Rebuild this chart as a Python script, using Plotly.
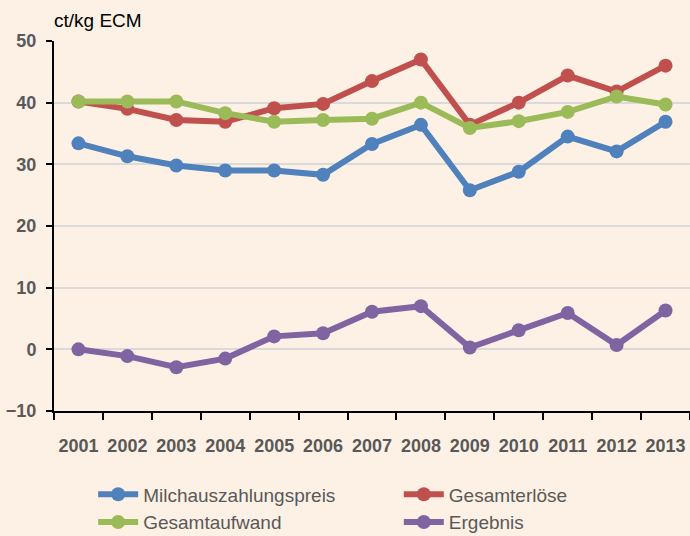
import plotly.graph_objects as go

years = ["2001", "2002", "2003", "2004", "2005", "2006", "2007",
         "2008", "2009", "2010", "2011", "2012", "2013"]
milchauszahlungspreis = [33.4, 31.3, 29.8, 29.0, 29.0, 28.3, 33.3, 36.4, 25.8, 28.8, 34.5, 32.1, 36.9]
gesamterloese = [40.2, 39.0, 37.2, 36.9, 39.1, 39.8, 43.5, 47.0, 36.4, 40.0, 44.4, 41.8, 46.0]
gesamtaufwand = [40.2, 40.2, 40.2, 38.3, 36.9, 37.2, 37.4, 40.0, 35.9, 37.0, 38.5, 41.0, 39.7]
ergebnis = [0.0, -1.1, -2.9, -1.5, 2.1, 2.6, 6.1, 7.0, 0.3, 3.1, 5.9, 0.7, 6.3]
y_ticks = [-10, 0, 10, 20, 30, 40, 50]

# (name, values, colour, legend column)
series = [
    ("Milchauszahlungspreis", milchauszahlungspreis, "#4F81BD", "legend"),
    ("Gesamterlöse", gesamterloese, "#C0504D", "legend2"),
    ("Gesamtaufwand", gesamtaufwand, "#9BBB59", "legend"),
    ("Ergebnis", ergebnis, "#8064A2", "legend2"),
]

BG = "#FDF1E5"
FONT = "Liberation Sans, Arial, sans-serif"
LEG_FONT = dict(family=FONT, size=19, color="#595959")

fig = go.Figure()
for name, vals, col, leg in series:
    fig.add_trace(go.Scatter(
        x=years, y=vals, name=name, mode="lines+markers",
        line=dict(color=col, width=6),
        marker=dict(color=col, size=14),
        legend=leg,
    ))

leg_common = dict(
    orientation="h", xref="container", yref="container",
    xanchor="left", yanchor="top", y=0.113,
    entrywidth=300, entrywidthmode="pixels",
    font=LEG_FONT, bgcolor="rgba(0,0,0,0)", itemwidth=40,
    traceorder="normal",
)

fig.update_layout(
    width=690, height=536,
    margin=dict(l=54, r=0, t=41, b=125),
    paper_bgcolor=BG, plot_bgcolor=BG,
    showlegend=True,
    legend=dict(x=0.135, **leg_common),
    legend2=dict(x=0.578, **leg_common),
    xaxis=dict(
        type="category", tickson="boundaries", range=[-0.5, 12.5],
        showline=True, linecolor="black", linewidth=2,
        ticks="outside", ticklen=7, tickcolor="black", tickwidth=2,
        showgrid=False, zeroline=False, tickangle=0, automargin=False,
        tickfont=dict(family=FONT, size=18, color="#595959", weight="bold"),
        ticklabelstandoff=17,
    ),
    yaxis=dict(
        range=[-10, 50], tickvals=y_ticks, automargin=False,
        showline=True, linecolor="black", linewidth=2,
        ticks="outside", ticklen=6, tickcolor="black", tickwidth=2,
        showgrid=True, gridcolor="#DADADA", gridwidth=2, zeroline=False,
        tickfont=dict(family=FONT, size=18, color="#595959", weight="bold"),
        ticklabelstandoff=6,
    ),
    annotations=[dict(
        text="ct/kg ECM", xref="paper", yref="paper",
        x=-0.003, y=1.0, xanchor="left", yanchor="bottom", yshift=8,
        showarrow=False,
        font=dict(family=FONT, size=19, color="black"),
    )],
)

fig.write_html("out.html", config={"displayModeBar": False},
               post_script="document.body.style.margin='0px';document.body.style.overflow='hidden';")
